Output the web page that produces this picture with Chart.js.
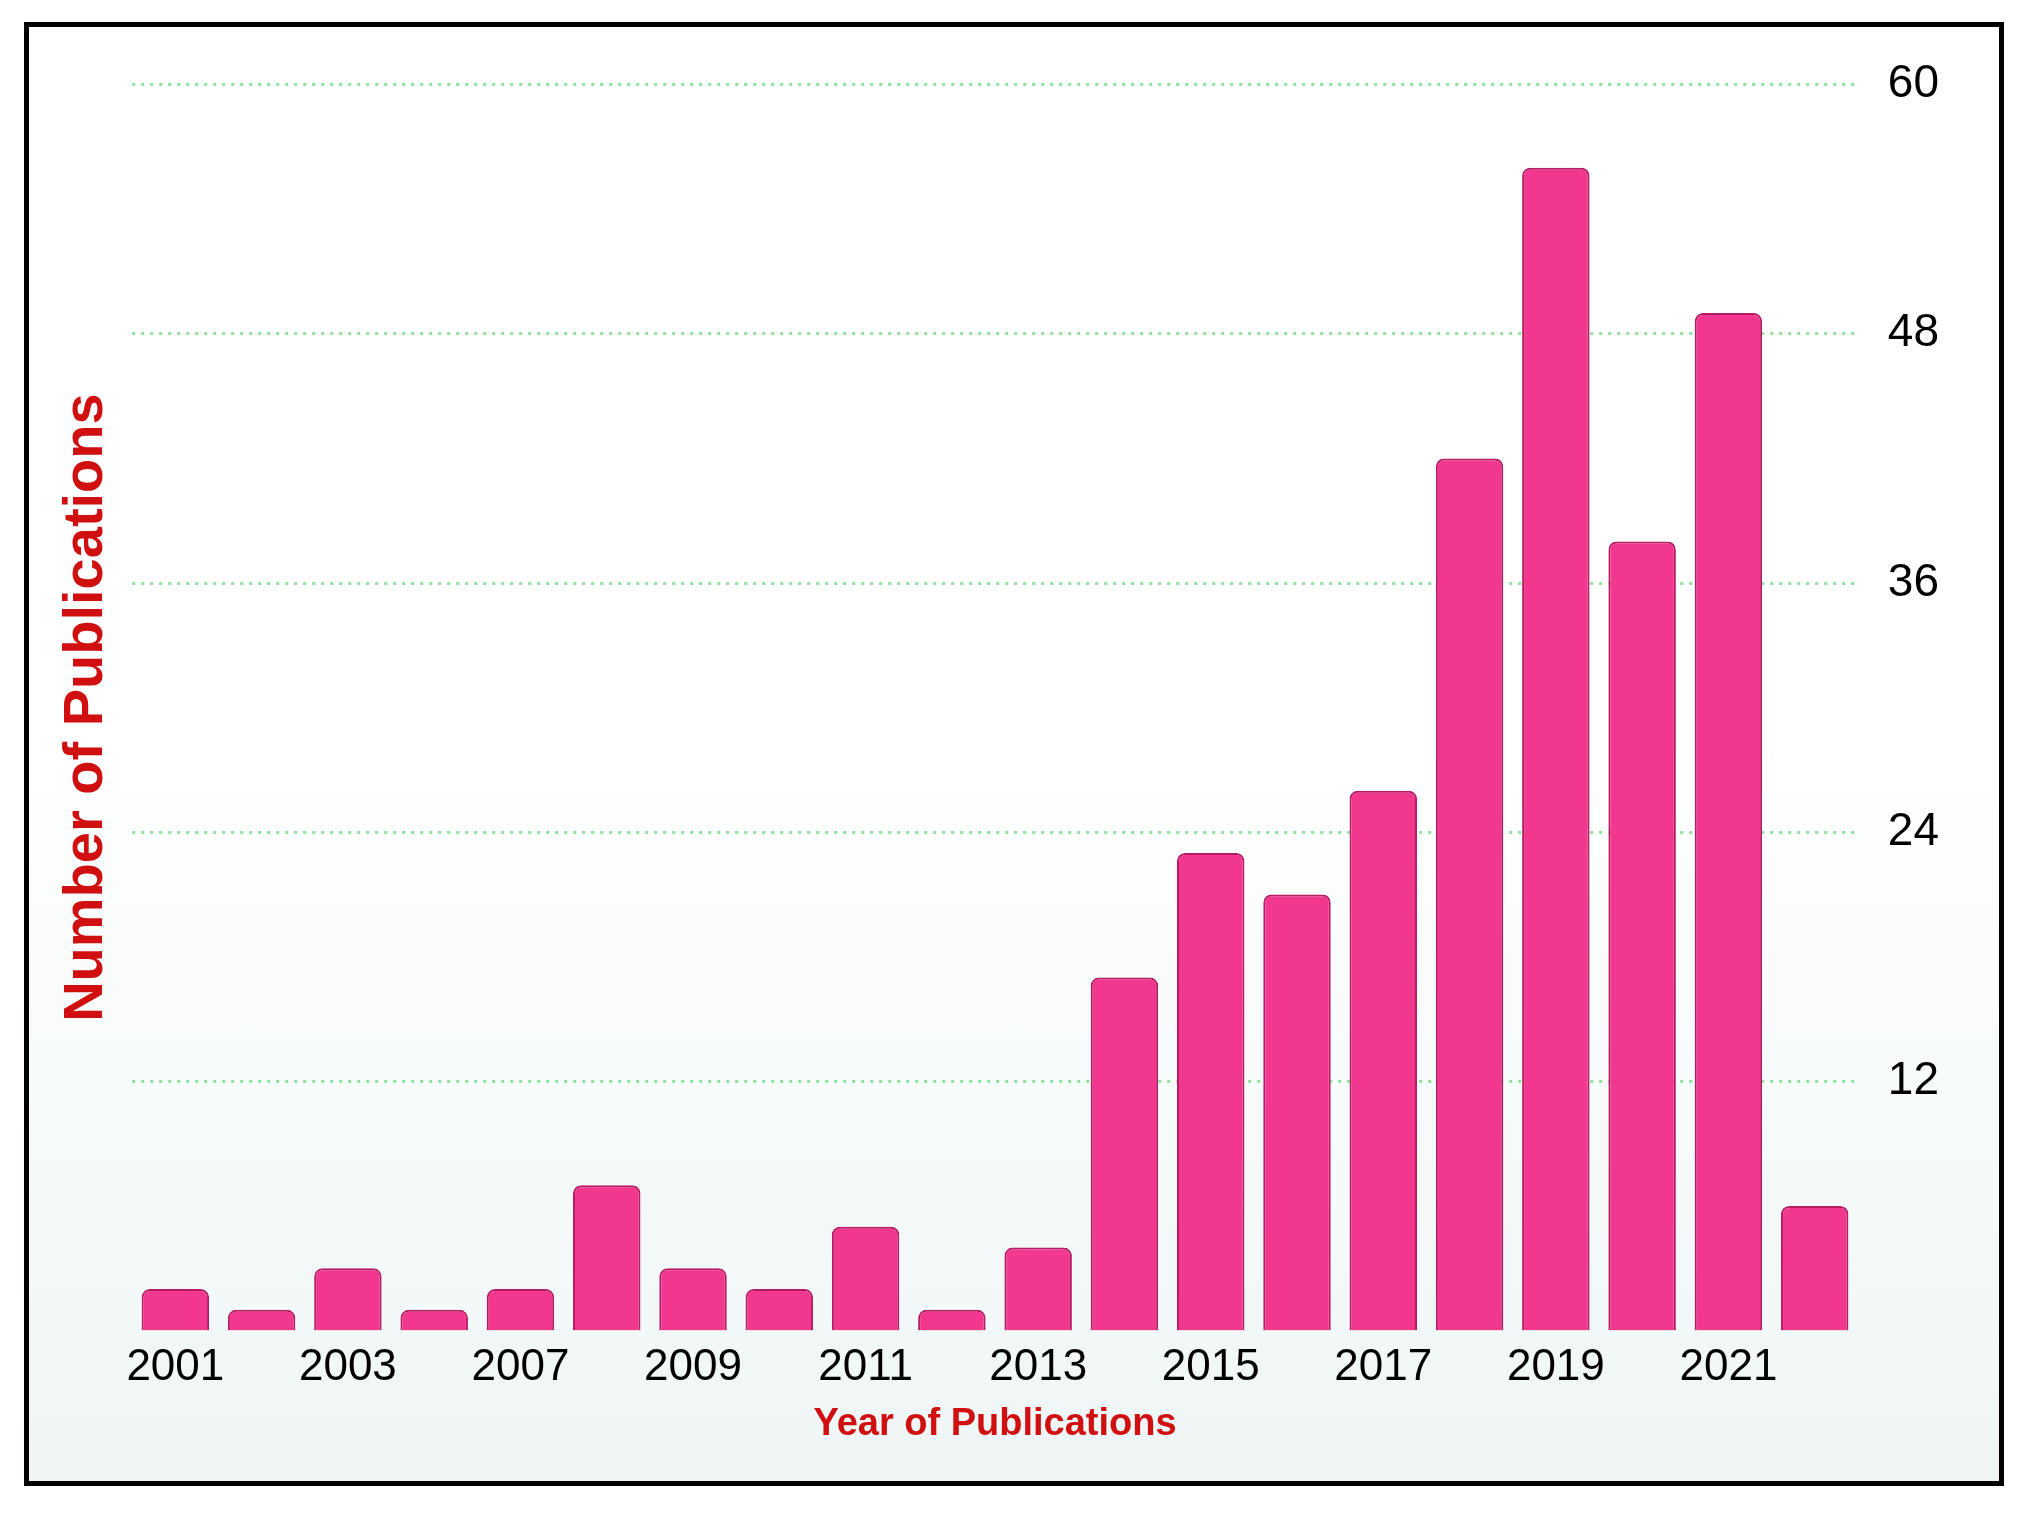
<!DOCTYPE html>
<html>
<head>
<meta charset="utf-8">
<script src="https://cdn.jsdelivr.net/npm/chart.js@4/dist/chart.umd.min.js"></script>
<style>
  html, body { margin: 0; background: #fff; }
  #frame {
    position: absolute; left: 24px; top: 22px; width: 1980px; height: 1464px;
    border: 5px solid #000; box-sizing: border-box;
    background: linear-gradient(to bottom, #fff 0%, #fff 50%, #eef6f5 100%);
  }
  canvas { display: block; }
</style>
</head>
<body>
<div id="frame"><canvas id="pubChart"></canvas></div>
<script>
// --- Data ---
const years = ['2001','2002','2003','2006','2007','2008','2009','2010','2011','2012',
               '2013','2014','2015','2016','2017','2018','2019','2020','2021','2022'];
const publications = [2, 1, 3, 1, 2, 7, 3, 2, 5, 1, 4, 17, 23, 21, 26, 42, 56, 38, 49, 6];
const yTicks = [12, 24, 36, 48, 60];

const ctx = document.getElementById('pubChart').getContext('2d');
const frame = document.getElementById('frame');
ctx.canvas.width = frame.clientWidth - 10;
ctx.canvas.height = frame.clientHeight - 10;

new Chart(ctx, {
    type: 'bar',
    data: {
        labels: years,
        datasets: [{
            label: 'Publications',
            data: publications,
            backgroundColor: '#f2378f',
            borderColor: '#b51c63',
            borderWidth: 2,
            borderRadius: 8,
            categoryPercentage: 0.92,
            barPercentage: 0.85
        }]
    },
    options: {
        responsive: false,
        animation: false,
        layout: { padding: { top: 40, right: 20, left: 20, bottom: 20 } },
        plugins: { legend: { display: false }, tooltip: { enabled: false } },
        scales: {
            x: {
                grid: { display: false },
                border: { display: false },
                title: {
                    display: true, text: 'Year of Publications', color: '#d01010',
                    font: { family: 'Liberation Sans', size: 38, weight: 'bold' }
                },
                ticks: {
                    autoSkip: false, maxRotation: 0, color: '#000',
                    font: { family: 'Liberation Sans', size: 44 },
                    callback: function (v, i) { return i % 2 === 0 ? years[i] : ''; }
                }
            },
            y: {
                position: 'right',
                min: 0, max: 60,
                afterBuildTicks: function (axis) { axis.ticks = yTicks.map(v => ({ value: v })); },
                grid: {
                    color: '#8fe39a', lineWidth: 3,
                    drawTicks: false
                },
                border: { display: false, dash: [3, 6] },
                ticks: {
                    color: '#000', padding: 30,
                    font: { family: 'Liberation Sans', size: 46 }
                },
                title: { display: false }
            },
            yl: {
                position: 'left', min: 0, max: 60,
                grid: { display: false }, border: { display: false },
                ticks: { display: false },
                title: {
                    display: true, text: 'Number of Publications', color: '#d01010',
                    font: { family: 'Liberation Sans', size: 56, weight: 'bold' }
                }
            }
        }
    },
    plugins: [{
        id: 'dotGrid',
        beforeDatasetsDraw(chart) {
            // redraw gridlines dotted
        }
    }]
});
</script>
</body>
</html>
